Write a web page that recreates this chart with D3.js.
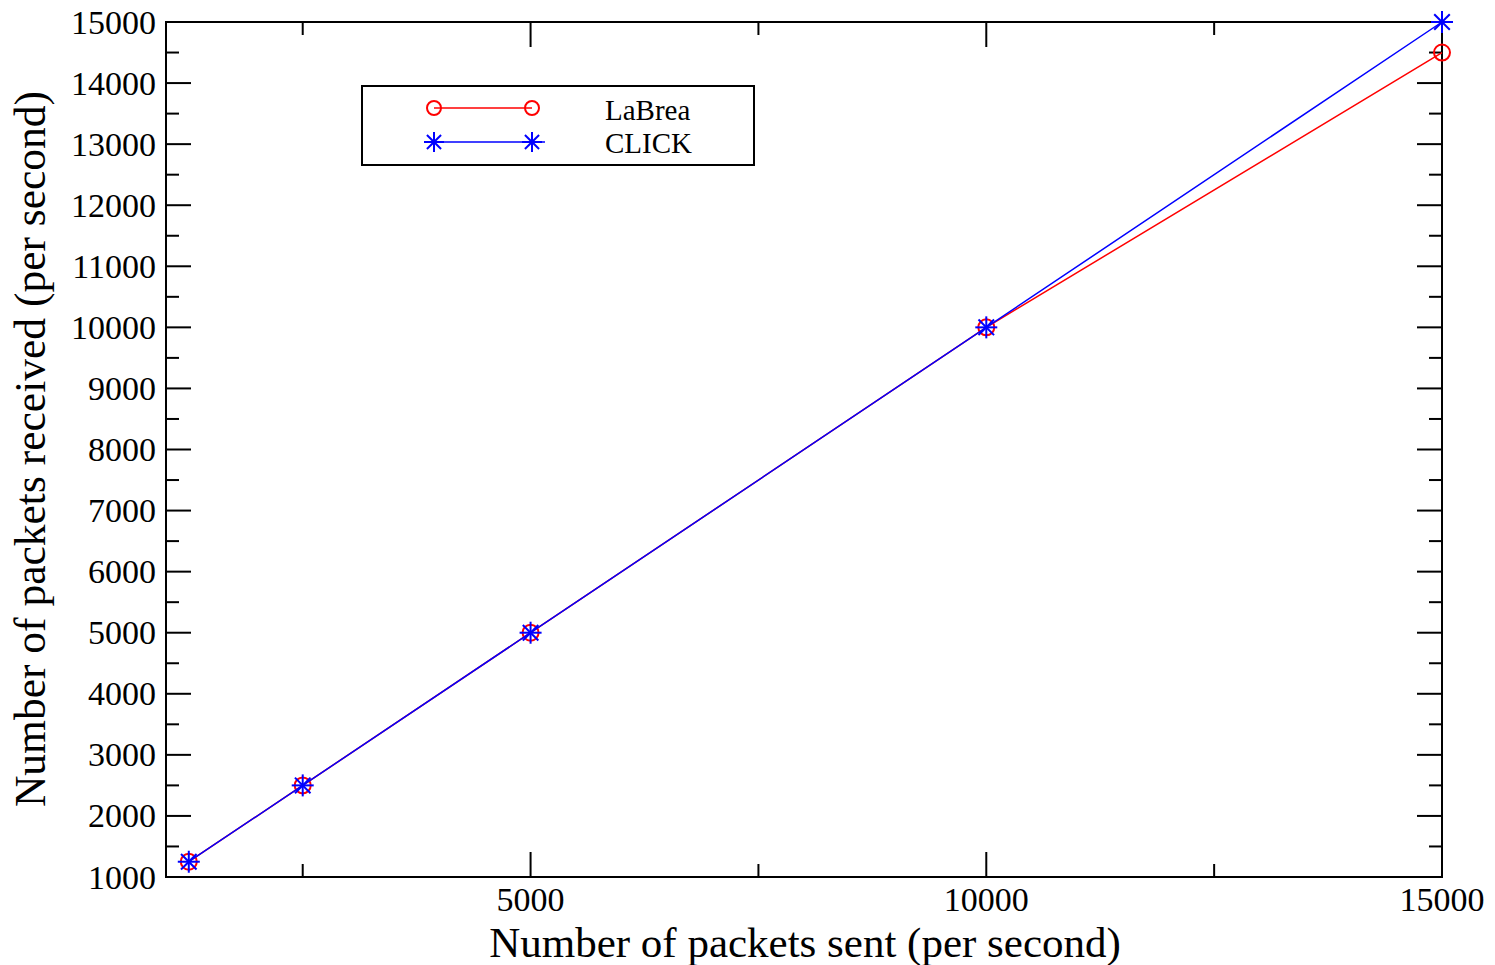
<!DOCTYPE html>
<html>
<head>
<meta charset="utf-8">
<script src="https://cdn.jsdelivr.net/npm/d3@7"></script>
<style>
  html, body { margin: 0; padding: 0; background: #fff; }
  svg text { font-family: "Liberation Serif", "DejaVu Serif", serif; fill: #000; }
</style>
</head>
<body>
<svg id="chart" width="1495" height="965"></svg>
<script>
// data
const sent = [1250, 2500, 5000, 10000, 15000];
const labrea = [1250, 2500, 5000, 10000, 14500];
const click = [1250, 2500, 5000, 10000, 15000];
const xLabelTicks = [5000, 10000, 15000];
const xMinorTicks = [2500, 7500, 12500];
const yTicks = d3.range(1000, 15001, 1000);
const yMinorTicks = d3.range(1500, 15000, 1000);

const svg = d3.select('#chart');
const plotL = 166, plotR = 1442, plotT = 22, plotB = 877;

const x = d3.scaleLinear().domain([1000, 15000]).range([plotL, plotR]);
const y = d3.scaleLinear().domain([1000, 15000]).range([plotB, plotT]);

const g = svg.append('g');

// inward ticks on all 4 sides
const ticks = g.append('g').attr('stroke', '#000').attr('stroke-width', 2);
xLabelTicks.concat(xMinorTicks).forEach(v => {
    const len = xLabelTicks.includes(v) ? 25 : 13;
    ticks.append('line').attr('x1', x(v)).attr('x2', x(v)).attr('y1', plotB).attr('y2', plotB - len);
    ticks.append('line').attr('x1', x(v)).attr('x2', x(v)).attr('y1', plotT).attr('y2', plotT + len);
});
yTicks.concat(yMinorTicks).forEach(v => {
    const len = yTicks.includes(v) ? 25 : 13;
    ticks.append('line').attr('y1', y(v)).attr('y2', y(v)).attr('x1', plotL).attr('x2', plotL + len);
    ticks.append('line').attr('y1', y(v)).attr('y2', y(v)).attr('x1', plotR).attr('x2', plotR - len);
});

// frame
g.append('rect')
    .attr('x', plotL).attr('y', plotT)
    .attr('width', plotR - plotL).attr('height', plotB - plotT)
    .attr('fill', 'none').attr('stroke', '#000').attr('stroke-width', 2);

// tick labels
yTicks.forEach(v => {
    g.append('text')
        .attr('x', plotL - 10).attr('y', y(v))
        .attr('text-anchor', 'end').attr('dominant-baseline', 'central')
        .attr('font-size', 34).text(v);
});
xLabelTicks.forEach(v => {
    g.append('text')
        .attr('x', x(v)).attr('y', 911)
        .attr('text-anchor', 'middle')
        .attr('font-size', 34).text(v);
});

// axis titles
g.append('text')
    .attr('x', 805).attr('y', 957)
    .attr('text-anchor', 'middle').attr('font-size', 43)
    .text('Number of packets sent (per second)');
g.append('text')
    .attr('transform', 'translate(45,449) rotate(-90)')
    .attr('text-anchor', 'middle').attr('font-size', 43.5)
    .text('Number of packets received (per second)');

function star(sel, cx, cy, r, color) {
    for (let a = 0; a < 4; a++) {
        const ang = a * Math.PI / 4;
        sel.append('line')
            .attr('x1', cx - r * Math.cos(ang)).attr('y1', cy - r * Math.sin(ang))
            .attr('x2', cx + r * Math.cos(ang)).attr('y2', cy + r * Math.sin(ang))
            .attr('stroke', color).attr('stroke-width', 2);
    }
}

const line = d3.line().x(d => x(d[0])).y(d => y(d[1]));

// LaBrea
const redPts = sent.map((s, i) => [s, labrea[i]]);
g.append('path').attr('d', line(redPts))
    .attr('fill', 'none').attr('stroke', '#ff0000').attr('stroke-width', 1.5);
redPts.forEach(p => {
    g.append('circle').attr('cx', x(p[0])).attr('cy', y(p[1])).attr('r', 8)
        .attr('fill', 'none').attr('stroke', '#ff0000').attr('stroke-width', 2);
});

// CLICK
const bluePts = sent.map((s, i) => [s, click[i]]);
g.append('path').attr('d', line(bluePts))
    .attr('fill', 'none').attr('stroke', '#0000ff').attr('stroke-width', 1.5);
bluePts.forEach(p => star(g, x(p[0]), y(p[1]), 11, '#0000ff'));

// legend
const lg = g.append('g');
lg.append('rect').attr('x', 362).attr('y', 86).attr('width', 392).attr('height', 79)
    .attr('fill', '#fff').attr('stroke', '#000').attr('stroke-width', 2);
lg.append('line').attr('x1', 434).attr('x2', 532).attr('y1', 108).attr('y2', 108)
    .attr('stroke', '#ff0000').attr('stroke-width', 1.5);
[434, 532].forEach(cx => lg.append('circle').attr('cx', cx).attr('cy', 108).attr('r', 7)
    .attr('fill', 'none').attr('stroke', '#ff0000').attr('stroke-width', 2));
lg.append('line').attr('x1', 424).attr('x2', 545).attr('y1', 142).attr('y2', 142)
    .attr('stroke', '#0000ff').attr('stroke-width', 1.5);
[434, 532].forEach(cx => star(lg, cx, 142, 10, '#0000ff'));
lg.append('text').attr('x', 605).attr('y', 120).attr('font-size', 29).text('LaBrea');
lg.append('text').attr('x', 605).attr('y', 153).attr('font-size', 29).text('CLICK');
</script>
</body>
</html>
